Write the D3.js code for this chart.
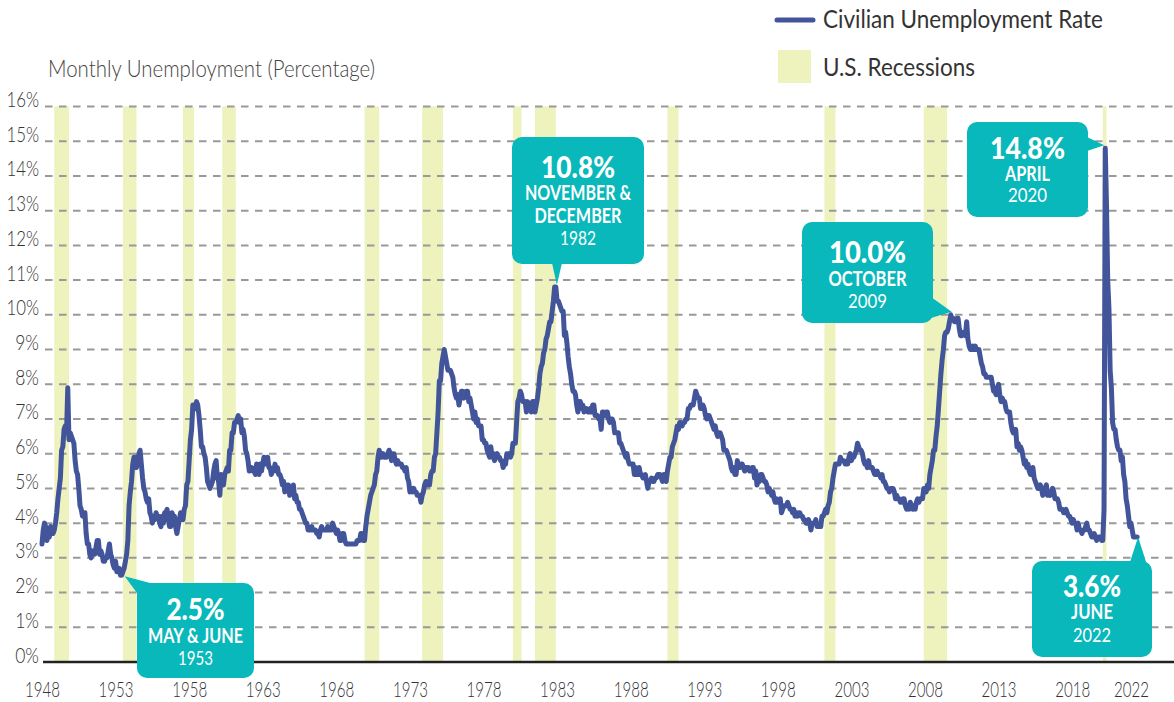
<!DOCTYPE html>
<html><head><meta charset="utf-8">
<script src="https://cdn.jsdelivr.net/npm/d3@7"></script>
<style>
html,body{margin:0;padding:0;background:#fff;}
svg{display:block;}
text{font-family:Lato,"Open Sans",sans-serif;}
</style></head><body>
<svg id="chart" width="1174" height="702"></svg>
<script>
// ---------------- DATA ----------------
const startYear = 1948;
// Civilian unemployment rate, monthly, Jan 1948 - Jun 2022 (%)
const unemploymentRate = [
/*1948*/3.4,3.8,4.0,3.9,3.5,3.6,3.6,3.9,3.8,3.7,3.8,4.0,
/*1949*/4.3,4.7,5.0,5.3,6.1,6.2,6.7,6.8,6.6,7.9,6.4,6.6,
/*1950*/6.5,6.4,6.3,5.8,5.5,5.4,5.0,4.5,4.4,4.2,4.2,4.3,
/*1951*/3.7,3.4,3.4,3.1,3.0,3.2,3.1,3.1,3.3,3.5,3.5,3.1,
/*1952*/3.2,3.1,2.9,2.9,3.0,3.0,3.2,3.4,3.1,3.0,2.8,2.7,
/*1953*/2.9,2.6,2.6,2.7,2.5,2.5,2.6,2.7,2.9,3.1,3.5,4.5,
/*1954*/4.9,5.2,5.7,5.9,5.9,5.6,5.8,6.0,6.1,5.7,5.3,5.0,
/*1955*/4.9,4.7,4.6,4.7,4.3,4.2,4.0,4.2,4.1,4.3,4.2,4.2,
/*1956*/4.0,3.9,4.2,4.0,4.3,4.3,4.4,4.1,3.9,3.9,4.3,4.2,
/*1957*/4.2,3.9,3.7,3.9,4.1,4.3,4.2,4.1,4.4,4.5,5.1,5.2,
/*1958*/5.8,6.4,6.7,7.4,7.4,7.3,7.5,7.4,7.1,6.7,6.2,6.2,
/*1959*/6.0,5.9,5.6,5.2,5.1,5.0,5.1,5.2,5.5,5.7,5.8,5.3,
/*1960*/5.2,4.8,5.4,5.2,5.1,5.4,5.5,5.6,5.5,6.1,6.1,6.6,
/*1961*/6.6,6.9,6.9,7.0,7.1,6.9,7.0,6.6,6.7,6.5,6.1,6.0,
/*1962*/5.8,5.5,5.6,5.6,5.5,5.5,5.4,5.7,5.6,5.4,5.7,5.5,
/*1963*/5.7,5.9,5.7,5.7,5.9,5.6,5.6,5.4,5.5,5.5,5.7,5.5,
/*1964*/5.6,5.4,5.4,5.3,5.1,5.2,4.9,5.0,5.1,5.1,4.8,5.0,
/*1965*/4.9,5.1,4.7,4.8,4.6,4.6,4.4,4.4,4.3,4.2,4.1,4.0,
/*1966*/4.0,3.8,3.8,3.8,3.9,3.8,3.8,3.8,3.7,3.7,3.6,3.8,
/*1967*/3.9,3.8,3.8,3.8,3.8,3.9,3.8,3.8,3.8,4.0,3.9,3.8,
/*1968*/3.7,3.8,3.7,3.5,3.5,3.7,3.7,3.5,3.4,3.4,3.4,3.4,
/*1969*/3.4,3.4,3.4,3.4,3.4,3.5,3.5,3.5,3.7,3.7,3.5,3.5,
/*1970*/3.9,4.2,4.4,4.6,4.8,4.9,5.0,5.1,5.4,5.5,5.9,6.1,
/*1971*/5.9,5.9,6.0,5.9,5.9,5.9,6.0,6.1,6.0,5.8,6.0,6.0,
/*1972*/5.8,5.7,5.8,5.7,5.7,5.7,5.6,5.6,5.5,5.6,5.3,5.2,
/*1973*/4.9,5.0,4.9,5.0,4.9,4.9,4.8,4.8,4.8,4.6,4.8,4.9,
/*1974*/5.1,5.2,5.1,5.1,5.1,5.4,5.5,5.5,5.9,6.0,6.6,7.2,
/*1975*/8.1,8.1,8.6,8.8,9.0,8.8,8.6,8.4,8.4,8.4,8.3,8.2,
/*1976*/7.9,7.7,7.6,7.7,7.4,7.6,7.8,7.8,7.6,7.7,7.8,7.8,
/*1977*/7.5,7.6,7.4,7.2,7.0,7.2,6.9,7.0,6.8,6.8,6.8,6.4,
/*1978*/6.4,6.3,6.3,6.1,6.0,5.9,6.2,5.9,6.0,5.8,5.9,6.0,
/*1979*/5.9,5.9,5.8,5.8,5.6,5.7,5.7,6.0,5.9,6.0,5.9,6.0,
/*1980*/6.3,6.3,6.3,6.9,7.5,7.6,7.8,7.7,7.5,7.5,7.5,7.2,
/*1981*/7.5,7.4,7.4,7.2,7.5,7.5,7.2,7.4,7.6,7.9,8.3,8.5,
/*1982*/8.6,8.9,9.0,9.3,9.4,9.6,9.8,9.8,10.1,10.4,10.8,10.8,
/*1983*/10.4,10.4,10.3,10.2,10.1,10.1,9.4,9.5,9.2,8.8,8.5,8.3,
/*1984*/8.0,7.8,7.8,7.7,7.4,7.2,7.5,7.5,7.3,7.4,7.2,7.3,
/*1985*/7.3,7.2,7.2,7.3,7.2,7.4,7.4,7.1,7.1,7.1,7.0,7.0,
/*1986*/6.7,7.2,7.2,7.1,7.2,7.2,7.0,6.9,7.0,7.0,6.9,6.6,
/*1987*/6.6,6.6,6.6,6.3,6.3,6.2,6.1,6.0,5.9,6.0,5.8,5.7,
/*1988*/5.7,5.7,5.7,5.4,5.6,5.4,5.4,5.6,5.4,5.4,5.3,5.3,
/*1989*/5.4,5.2,5.0,5.2,5.2,5.3,5.2,5.2,5.3,5.3,5.4,5.4,
/*1990*/5.4,5.3,5.2,5.4,5.4,5.2,5.5,5.7,5.9,5.9,6.2,6.3,
/*1991*/6.4,6.6,6.8,6.7,6.9,6.9,6.8,6.9,6.9,7.0,7.0,7.3,
/*1992*/7.3,7.4,7.4,7.4,7.6,7.8,7.7,7.6,7.6,7.3,7.4,7.4,
/*1993*/7.3,7.1,7.0,7.1,7.1,7.0,6.9,6.8,6.7,6.8,6.6,6.5,
/*1994*/6.6,6.6,6.5,6.4,6.1,6.1,6.1,6.0,5.9,5.8,5.6,5.5,
/*1995*/5.6,5.4,5.4,5.8,5.6,5.6,5.7,5.7,5.6,5.5,5.6,5.6,
/*1996*/5.6,5.5,5.5,5.6,5.6,5.3,5.5,5.1,5.2,5.2,5.4,5.4,
/*1997*/5.3,5.2,5.2,5.1,4.9,5.0,4.9,4.8,4.9,4.7,4.6,4.7,
/*1998*/4.6,4.6,4.7,4.3,4.4,4.5,4.5,4.5,4.6,4.5,4.4,4.4,
/*1999*/4.3,4.4,4.2,4.3,4.2,4.3,4.3,4.2,4.2,4.1,4.1,4.0,
/*2000*/4.0,4.1,4.0,3.8,4.0,4.0,4.0,4.1,3.9,3.9,3.9,3.9,
/*2001*/4.2,4.2,4.3,4.4,4.3,4.5,4.6,4.9,5.0,5.3,5.5,5.7,
/*2002*/5.7,5.7,5.7,5.9,5.8,5.8,5.8,5.7,5.7,5.7,5.9,6.0,
/*2003*/5.8,5.9,5.9,6.0,6.1,6.3,6.2,6.1,6.1,6.0,5.8,5.7,
/*2004*/5.7,5.6,5.8,5.6,5.6,5.6,5.5,5.4,5.4,5.5,5.4,5.4,
/*2005*/5.3,5.4,5.2,5.2,5.1,5.0,5.0,4.9,5.0,5.0,5.0,4.9,
/*2006*/4.7,4.8,4.7,4.7,4.6,4.6,4.7,4.7,4.5,4.4,4.5,4.4,
/*2007*/4.6,4.5,4.4,4.5,4.4,4.6,4.7,4.6,4.7,4.7,4.7,5.0,
/*2008*/5.0,4.9,5.1,5.0,5.4,5.6,5.8,6.1,6.1,6.5,6.8,7.3,
/*2009*/7.8,8.3,8.7,9.0,9.4,9.5,9.5,9.6,9.8,10.0,9.9,9.9,
/*2010*/9.8,9.8,9.9,9.9,9.6,9.4,9.4,9.5,9.5,9.4,9.8,9.3,
/*2011*/9.1,9.0,9.0,9.1,9.0,9.1,9.0,9.0,9.0,8.8,8.6,8.5,
/*2012*/8.3,8.3,8.2,8.2,8.2,8.2,8.2,8.0,7.8,7.8,7.7,7.9,
/*2013*/8.0,7.7,7.5,7.6,7.5,7.5,7.3,7.2,7.2,7.2,6.9,6.7,
/*2014*/6.6,6.7,6.7,6.2,6.3,6.1,6.2,6.1,5.9,5.7,5.8,5.6,
/*2015*/5.7,5.5,5.4,5.4,5.6,5.3,5.2,5.1,5.0,5.0,5.1,5.0,
/*2016*/4.8,4.9,5.0,5.1,4.8,4.9,4.8,4.9,5.0,4.9,4.7,4.7,
/*2017*/4.7,4.6,4.4,4.4,4.4,4.3,4.3,4.4,4.3,4.2,4.2,4.1,
/*2018*/4.0,4.1,4.0,4.0,3.8,4.0,3.8,3.8,3.7,3.8,3.8,3.9,
/*2019*/4.0,3.8,3.8,3.7,3.6,3.6,3.7,3.6,3.5,3.6,3.6,3.6,
/*2020*/3.5,3.5,4.4,14.8,13.2,11.0,10.2,8.4,7.9,6.9,6.7,6.7,
/*2021*/6.4,6.2,6.1,6.1,5.8,5.9,5.4,5.2,4.7,4.5,4.2,3.9,
/*2022*/4.0,3.8,3.6,3.6,3.6,3.6
];
// U.S. recessions [year, month]
const recessionStart = [[1948,11],[1953,7],[1957,8],[1960,4],[1969,12],[1973,11],[1980,1],[1981,7],[1990,7],[2001,3],[2007,12],[2020,2]];
const recessionEnd   = [[1949,10],[1954,5],[1958,4],[1961,2],[1970,11],[1975,3],[1980,7],[1982,11],[1991,3],[2001,11],[2009,6],[2020,4]];
const yTickValues = [0,1,2,3,4,5,6,7,8,9,10,11,12,13,14,15,16];
const xTickYears = [1948,1953,1958,1963,1968,1973,1978,1983,1988,1993,1998,2003,2008,2013,2018,2022];
// Callouts
const calloutValues = ["2.5%","10.8%","10.0%","14.8%","3.6%"];
const calloutMonths = [["MAY & JUNE"],["NOVEMBER &","DECEMBER"],["OCTOBER"],["APRIL"],["JUNE"]];
const calloutYears  = ["1953","1982","2009","2020","2022"];
const calloutDates  = [[1953,6],[1982,12],[2009,10],[2020,4],[2022,6]];
const titleText = "Monthly Unemployment (Percentage)";
const legendLabels = ["Civilian Unemployment Rate","U.S. Recessions"];

// ---------------- LAYOUT / STYLE ----------------
const COL_LINE = "#43559a", COL_BAND = "#eef2bd", COL_TEAL = "#08b8ba", COL_GRID = "#999999", COL_TEXT = "#333333";
const calloutBoxes = [
  {x:137,y:583,w:117,h:95, lines:[620,643,665], widths:[58,95,35], tipDx:3, tipDy:1, base:[[150,583],[137,593]]},
  {x:512,y:137,w:132,h:127, lines:[178,200,223,245], widths:[74,106,87,36], tipDx:1, tipDy:-2, base:[[552,263],[562,263]]},
  {x:802,y:222,w:131,h:101, lines:[263,286,308], widths:[77,78,39], tipDx:1, tipDy:-3, base:[[931,297],[931,318]]},
  {x:967,y:122,w:121,h:95, lines:[159,181,202], widths:[75,45,39], tipDx:-1, tipDy:-3, base:[[1087,137],[1087,151]]},
  {x:1032,y:561,w:120,h:96, lines:[597,619,642], widths:[58,42,38], tipDx:1, tipDy:0, base:[[1130,562],[1146,562]]}
];

const svg = d3.select("#chart");
const x = d3.scaleLinear().domain([1948, 2024.65]).range([42, 1170]);
const y = d3.scaleLinear().domain([0, 16]).range([662, 106.5]);
const tOf = (yr, mo) => yr + (mo - 1) / 12;

// recession bands
svg.append("g").selectAll("rect").data(recessionStart).join("rect")
  .attr("x", (d) => x(tOf(d[0], d[1])))
  .attr("width", (d, i) => x(tOf(recessionEnd[i][0], recessionEnd[i][1]) + 1/12) - x(tOf(d[0], d[1])))
  .attr("y", y(16)).attr("height", y(0) - y(16))
  .attr("fill", COL_BAND);

// grid lines
svg.append("g").selectAll("line").data(yTickValues.filter(v => v > 0)).join("line")
  .attr("x1", 45).attr("x2", 1174).attr("y1", d => y(d)).attr("y2", d => y(d))
  .attr("stroke", COL_GRID).attr("stroke-width", 2).attr("stroke-dasharray", "7.5,6.5");

// baseline
svg.append("line").attr("x1", 43).attr("x2", 1174).attr("y1", y(0)).attr("y2", y(0))
  .attr("stroke", "#222").attr("stroke-width", 2.5);

// y axis
const yAxis = svg.append("g").attr("transform", "translate(39,0)")
  .call(d3.axisLeft(y).tickValues(yTickValues).tickFormat(d => d + "%").tickSize(0).tickPadding(0));
yAxis.select(".domain").remove();
yAxis.selectAll("text").attr("dy", "0").attr("x", 0)
  .attr("font-family", "Lato").attr("font-weight", 300).attr("font-size", 22).attr("fill", COL_TEXT)
  .attr("textLength", d => String(d).length * 8.8 + 15).attr("lengthAdjust", "spacingAndGlyphs");

// x axis
const xAxis = svg.append("g").attr("transform", "translate(0,697)")
  .call(d3.axisBottom(x).tickValues(xTickYears).tickFormat(d3.format("d")).tickSize(0).tickPadding(0));
xAxis.select(".domain").remove();
xAxis.selectAll("text").attr("dy", "0").attr("y", 0)
  .attr("font-family", "Lato").attr("font-weight", 300).attr("font-size", 21).attr("fill", COL_TEXT)
  .attr("textLength", 35).attr("lengthAdjust", "spacingAndGlyphs");

// line
const line = d3.line().x((d, i) => x(startYear + i / 12)).y(d => y(d));
svg.append("path").datum(unemploymentRate).attr("d", line)
  .attr("fill", "none").attr("stroke", COL_LINE).attr("stroke-width", 5)
  .attr("stroke-linejoin", "round").attr("stroke-linecap", "round");

// title
svg.append("text").attr("x", 48).attr("y", 77).text(titleText)
  .attr("font-weight", 300).attr("font-size", 23).attr("fill", "#444")
  .attr("textLength", 327).attr("lengthAdjust", "spacingAndGlyphs");

// legend
svg.append("line").attr("x1", 777).attr("x2", 813).attr("y1", 20).attr("y2", 20)
  .attr("stroke", COL_LINE).attr("stroke-width", 5).attr("stroke-linecap", "round");
svg.append("text").attr("x", 823).attr("y", 28).text(legendLabels[0])
  .attr("font-weight", 400).attr("font-size", 25).attr("fill", "#333")
  .attr("textLength", 280).attr("lengthAdjust", "spacingAndGlyphs");
svg.append("rect").attr("x", 778).attr("y", 50).attr("width", 33).attr("height", 33).attr("fill", COL_BAND);
svg.append("text").attr("x", 823).attr("y", 76).text(legendLabels[1])
  .attr("font-weight", 400).attr("font-size", 25).attr("fill", "#333")
  .attr("textLength", 152).attr("lengthAdjust", "spacingAndGlyphs");

// callouts
const cg = svg.append("g");
calloutBoxes.forEach((b, i) => {
  const [yr, mo] = calloutDates[i];
  const idx = (yr - startYear) * 12 + (mo - 1);
  const tip = [x(tOf(yr, mo)) + b.tipDx, y(unemploymentRate[idx]) + b.tipDy];
  cg.append("polygon").attr("points", [tip, b.base[0], b.base[1]].map(p => p.join(",")).join(" ")).attr("fill", COL_TEAL);
  cg.append("rect").attr("x", b.x).attr("y", b.y).attr("width", b.w).attr("height", b.h)
    .attr("rx", 10).attr("fill", COL_TEAL);
  const cx = b.x + b.w / 2;
  const texts = [calloutValues[i], ...calloutMonths[i], calloutYears[i]];
  texts.forEach((t, j) => {
    const isVal = j === 0, isYear = j === texts.length - 1;
    cg.append("text").attr("x", cx).attr("y", b.lines[j]).attr("text-anchor", "middle").text(t)
      .attr("fill", "#fff")
      .attr("font-weight", isVal ? 900 : (isYear ? 400 : 700))
      .attr("font-size", isVal ? 31 : 20)
      .attr("textLength", b.widths[j]).attr("lengthAdjust", "spacingAndGlyphs");
  });
});
</script>
</body></html>
